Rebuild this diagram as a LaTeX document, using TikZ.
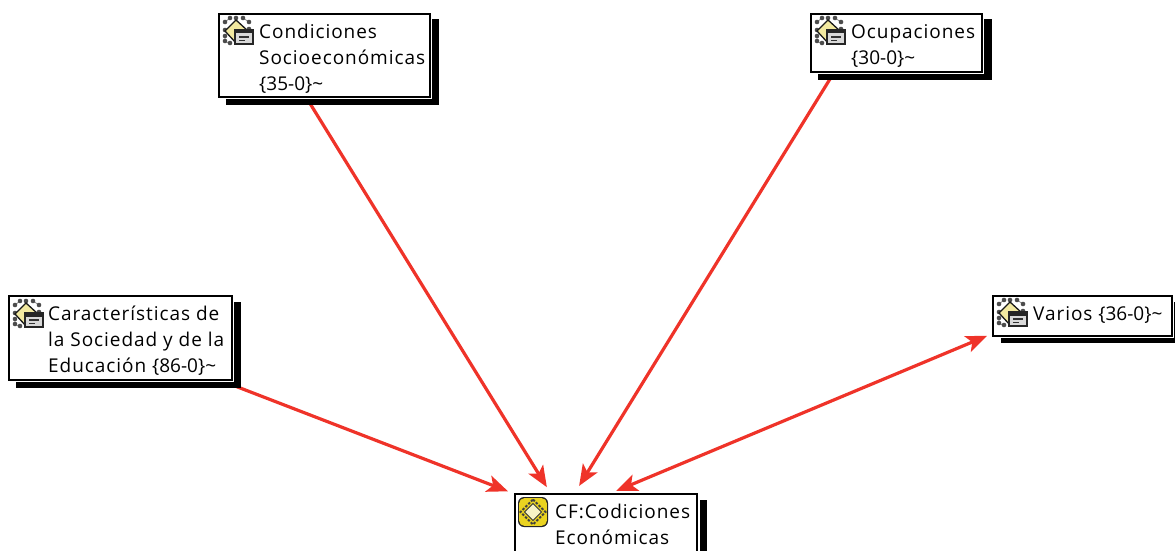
\documentclass[tikz,border=0pt]{standalone}
\usepackage{fontspec}
\setmainfont[LetterSpace=5]{Open Sans}
\newfontfamily\numfont{Open Sans}
\usetikzlibrary{arrows.meta}
\definecolor{linkred}{HTML}{EF3329}
\definecolor{dmd}{HTML}{F2E9A0}
\definecolor{dmdcf}{HTML}{EAD320}
\tikzset{
  x=1pt,y=-1pt,
  card/.style={draw=black,line width=1.6pt},
  blank/.style={minimum width=#1,inner sep=0pt,outer sep=0pt},
  label/.style={inner sep=0pt,anchor=north west,align=left,font=\fontsize{19}{26}\selectfont,text=black},
  conn/.style={draw=linkred,line width=3.2pt,-{Stealth[length=21pt,width=17pt,inset=5pt]}},
  connboth/.style={draw=linkred,line width=3.2pt,{Stealth[length=21pt,width=17pt,inset=5pt]}-{Stealth[length=21pt,width=17pt,inset=5pt]}},
}
\newcommand{\famicon}[2]{%
  \begin{scope}[shift={(#1,#2)}]
    \draw[black!45,line width=.8pt] (3,5)--(8,1) (21,1)--(27,5) (3,19)--(3,24)--(8,27);
    \foreach \a/\b in {3/5,8/1,14/1,21/1,27/5,3/13,27/12,3/19,8/26,3/24}{\fill[black!70] (\a,\b) circle (2.3pt);}
    \draw[fill=dmd,draw=black!90,line width=1.3pt] (14,3)--(26,14)--(14,26)--(3,14)--cycle;
    \draw[fill=white!85!black,draw=black!85,line width=1.5pt] (13,13) rectangle (31,27);
    \fill[black!85] (13,13) rectangle (31,16.5);
    \draw[black!80,line width=1.2pt] (17,20)--(27,20) (17,23.5)--(23,23.5);
  \end{scope}}
\newcommand{\cficon}[2]{%
  \begin{scope}[shift={(#1,#2)}]
    \fill[black!85,rounded corners=6pt] (0,0) rectangle (30,30);
    \fill[dmdcf,rounded corners=5pt] (1.2,1.2) rectangle (28.8,28.8);
    \draw[black!75,line width=2pt,dash pattern=on 2.5pt off 1.5pt] (15,2.5)--(27.5,15)--(15,27.5)--(2.5,15)--cycle;
    \draw[fill=dmd!60!white,draw=black!80,line width=.8pt] (15,6.5)--(23.5,15)--(15,23.5)--(6.5,15)--cycle;
  \end{scope}}
\begin{document}
\begin{tikzpicture}
\useasboundingbox (0,0) rectangle (1175,551);
\clip (0,0) rectangle (1175,551);
\node[blank=211pt,minimum height=83pt] (socio) at (324.5,55.5) {};
\node[blank=171pt,minimum height=58pt] (ocup) at (896.5,43) {};
\node[blank=223pt,minimum height=84pt] (carac) at (120.5,338) {};
\node[blank=179pt,minimum height=40pt] (varios) at (1082.5,316) {};
\node[blank=182pt,minimum height=66pt] (cf) at (606,527) {};
\draw[conn,shorten >=8pt] (socio.246) -- (cf.149.8);
\draw[conn,shorten >=9.5pt] (ocup.205.2) -- (cf.134.1);
\draw[conn,shorten >=7.5pt] (carac.337.2) -- (cf.north west);
\draw[connboth,shorten <=6.5pt,shorten >=8pt] (varios.191.7) -- (cf.85);
\fill[black] (226,19) rectangle (439,105);
\fill[black] (818,19) rectangle (992,80);
\fill[black] (16,302) rectangle (241,388);
\fill[black] (1001,302) rectangle (1175,343);
\fill[black] (700,500) rectangle (707,551);
\foreach \n in {socio,ocup,carac,varios,cf}{
  \draw[white,line width=4.5pt,fill=white] (\n.north west) rectangle (\n.south east);
  \draw[card] (\n.north west) rectangle (\n.south east);
}
\famicon{222}{17}
\famicon{814}{17}
\famicon{12}{300}
\famicon{996}{299}
\cficon{518}{497}
\node[label] (tsocio) at (259,24) {Condiciones\\Socioeconómicas\\{\numfont\{35-0\}\textasciitilde}};
\node[label] (tocup) at (851,24) {Ocupaciones\\{\numfont\{30-0\}\textasciitilde}};
\node[label] (tcarac) at (48,306) {Características de\\la Sociedad y de la\\Educación {\numfont\{86-0\}\textasciitilde}};
\node[label] (tvarios) at (1033,306) {Varios {\numfont\{36-0\}\textasciitilde}};
\node[label] (tcf) at (555,504) {CF:Codiciones\\Económicas};
\end{tikzpicture}
\end{document}
